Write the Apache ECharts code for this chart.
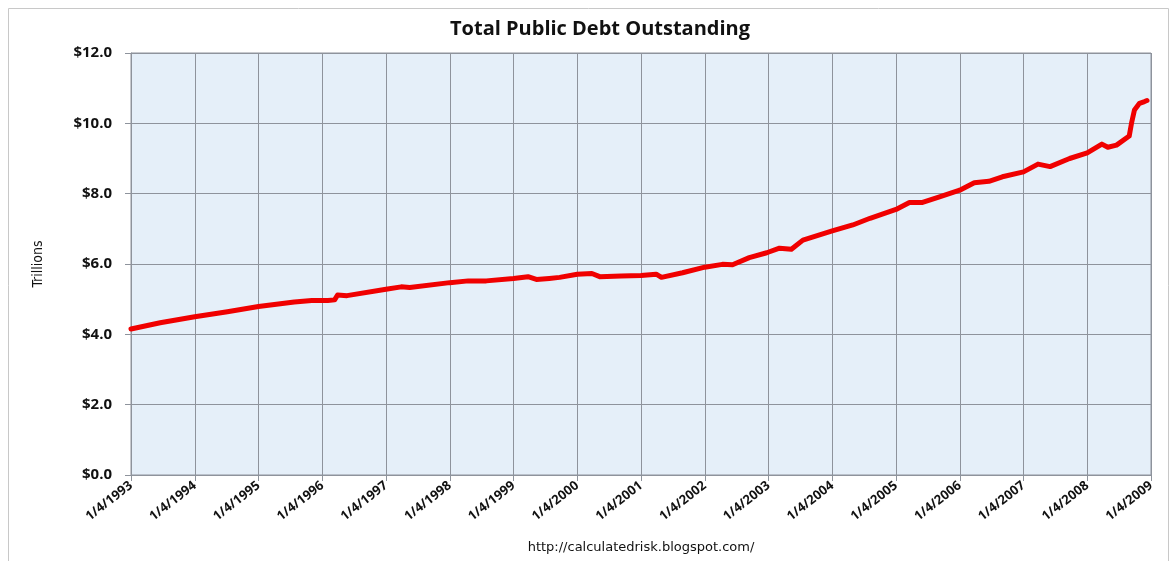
<!DOCTYPE html>
<html>
<head>
<meta charset="utf-8">
<script src="https://cdn.jsdelivr.net/npm/echarts@6/dist/echarts.min.js"></script>
<style>
html,body{margin:0;padding:0;background:#fff;}
#chart{width:1176px;height:561px;}
</style>
</head>
<body>
<div id="chart"></div>
<script>
// Dates of observations and debt outstanding (trillions of dollars)
const dates = [
 '1993-01-04','1993-06-20','1994-01-04','1994-07-10','1995-01-04','1995-07-28','1995-11-05','1996-02-05','1996-03-15','1996-04-01','1996-05-25',
 '1997-01-04','1997-04-01','1997-05-20','1998-01-04','1998-04-20','1998-08-01','1999-01-04','1999-03-28','1999-05-15','1999-07-28','1999-09-25',
 '2000-01-04','2000-03-28','2000-05-12','2000-09-12','2001-01-04','2001-04-01','2001-05-01','2001-08-30','2002-01-04','2002-04-15','2002-06-12',
 '2002-09-16','2002-12-25','2003-03-08','2003-05-15','2003-07-20','2004-01-04','2004-05-01','2004-08-08','2005-01-04','2005-03-22','2005-06-05',
 '2005-09-10','2006-01-04','2006-03-28','2006-06-20','2006-09-05','2007-01-04','2007-03-28','2007-06-05','2007-09-25','2008-01-04','2008-03-28',
 '2008-05-01','2008-06-20','2008-09-01','2008-09-14','2008-10-01','2008-10-30','2008-11-28','2008-12-12'
];
const debt = [
 4.15,4.33,4.50,4.64,4.79,4.92,4.96,4.96,4.98,5.12,5.10,
 5.28,5.35,5.33,5.47,5.52,5.52,5.59,5.64,5.56,5.59,5.62,
 5.71,5.73,5.64,5.66,5.67,5.71,5.62,5.75,5.91,5.99,5.98,
 6.18,6.32,6.45,6.42,6.68,6.94,7.11,7.30,7.55,7.75,7.75,
 7.91,8.10,8.31,8.35,8.48,8.62,8.84,8.77,9.00,9.16,9.41,
 9.32,9.38,9.64,10.0,10.38,10.57,10.62,10.65
];
const yearTicks = [1993,1994,1995,1996,1997,1998,1999,2000,2001,2002,2003,2004,2005,2006,2007,2008,2009];
const yTicks = [0,2,4,6,8,10,12];

function toYear(s){
  const [y,m,d] = s.split('-').map(Number);
  const start = Date.UTC(y,0,4), end = Date.UTC(y+1,0,4);
  return y + (Date.UTC(y,m-1,d) - start)/(end-start);
}
const seriesData = dates.map((d,i)=>[toYear(d), debt[i]]);

const chart = echarts.init(document.getElementById('chart'));
const font = '"Open Sans", Lato, "DejaVu Sans", sans-serif';
chart.setOption({
  animation:false,
  backgroundColor:'#fff',
  title:{
    text:'Total Public Debt Outstanding',
    left:595, top:14, textAlign:'center',
    textStyle:{fontFamily:font,fontSize:20,fontWeight:'bold',color:'#111'}
  },
  graphic:[
    {type:'rect',shape:{x:8.5,y:8.5,width:1160,height:570},style:{fill:'none',stroke:'#c8c8c8',lineWidth:1},silent:true,z:-1},
    {type:'text',x:641,y:548,style:{text:'http://calculatedrisk.blogspot.com/',fontFamily:'"DejaVu Sans", sans-serif',fontSize:13,fill:'#111',textAlign:'center',textVerticalAlign:'middle'},silent:true}
  ],
  grid:{left:131,right:25,top:53,bottom:86,show:true,backgroundColor:'#e5eff9',borderColor:'#8e939c',borderWidth:1},
  xAxis:{
    type:'value',min:yearTicks[0],max:yearTicks[yearTicks.length-1],interval:1,
    axisLine:{show:true,lineStyle:{color:'#8e939c'}},
    axisTick:{show:true,length:6,lineStyle:{color:'#8e939c'}},
    splitLine:{show:true,lineStyle:{color:'#8e939c',width:1}},
    axisLabel:{rotate:38,fontFamily:font,fontSize:13,fontWeight:'bold',color:'#111',margin:9,
      formatter:v=>'1/4/'+v}
  },
  yAxis:{
    type:'value',min:yTicks[0],max:yTicks[yTicks.length-1],interval:2,
    name:'Trillions',nameLocation:'middle',nameGap:86,nameRotate:90,
    nameTextStyle:{fontFamily:'"Liberation Sans Narrow", "DejaVu Sans Condensed", "Liberation Sans", sans-serif',fontSize:14,color:'#111'},
    axisLine:{show:true,lineStyle:{color:'#8e939c'}},
    axisTick:{show:true,length:6,lineStyle:{color:'#8e939c'}},
    splitLine:{show:true,lineStyle:{color:'#8e939c',width:1}},
    axisLabel:{fontFamily:font,fontSize:15,fontWeight:'bold',color:'#111',margin:19,
      formatter:v=>'$'+v.toFixed(1)}
  },
  series:[{
    type:'line',data:seriesData,showSymbol:false,smooth:false,
    lineStyle:{color:'#f00000',width:5,cap:'round',join:'round'}
  }]
});
</script>
</body>
</html>
